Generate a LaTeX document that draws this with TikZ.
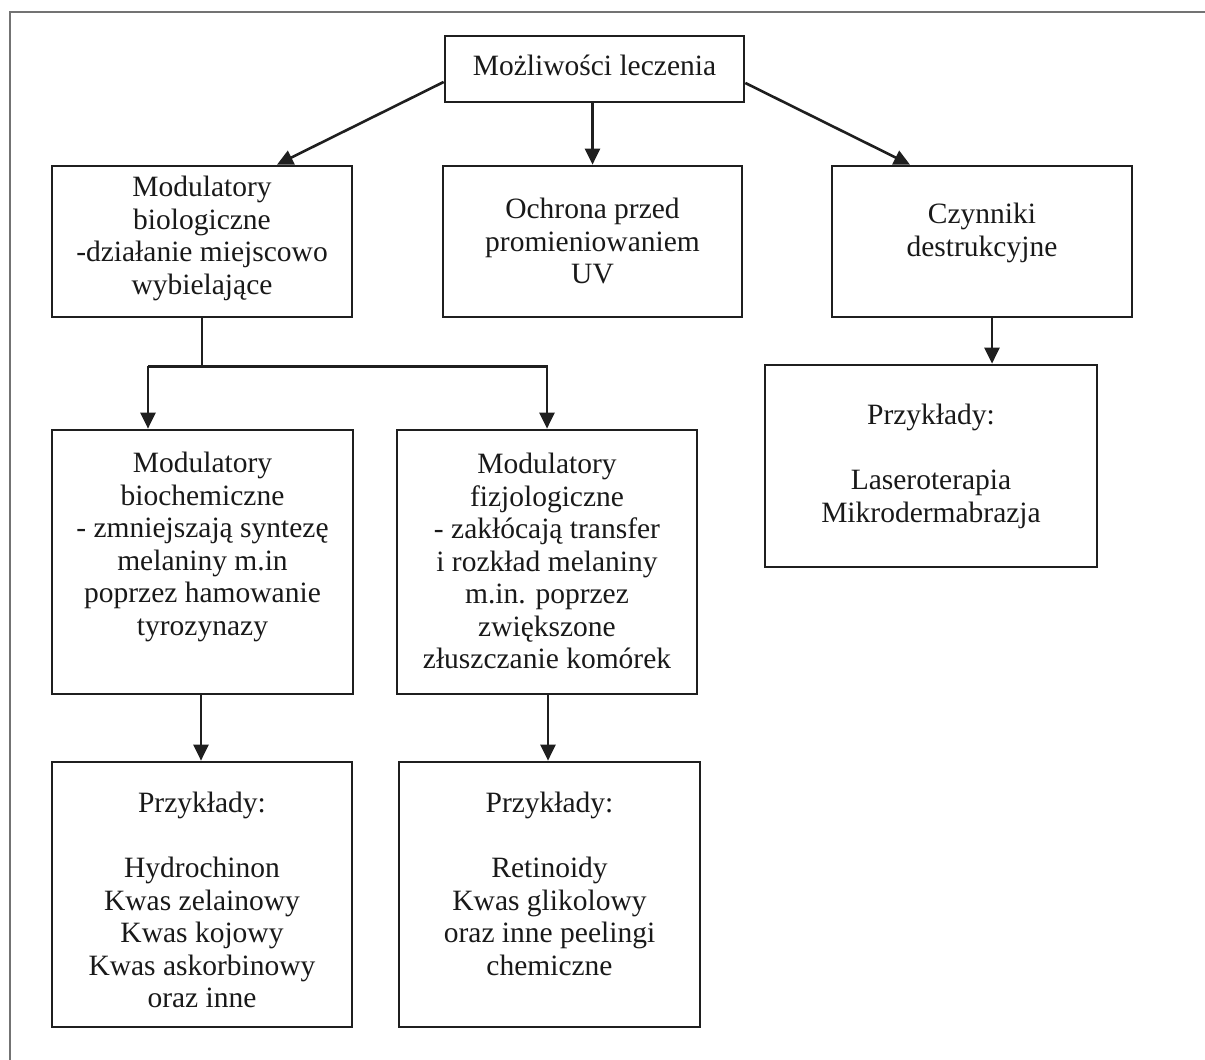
\documentclass[tikz,border=0pt]{standalone}
\usepackage{fontspec}
\setmainfont{Liberation Serif}
\usetikzlibrary{arrows.meta,calc}
\begin{document}
\begin{tikzpicture}[x=1pt,y=-1pt,
  box/.style={draw=black!88, line width=2.7pt, rectangle, inner sep=0pt},
  txt/.style={align=center, inner sep=0pt, font=\fontsize{29.5}{32.5}\selectfont, text=black!90, anchor=north},
  conn/.style={draw=black!88, line width=2.6pt},
  arr/.style={conn, -{Triangle[length=16pt,width=15pt]}},
  frame/.style={draw=black!55, line width=1.3pt}
]
\useasboundingbox (0,0) rectangle (1205,1060);
\draw[frame] (10,1060) -- (10,12) -- (1205,12);

% boxes
\node[box, minimum width=299pt, minimum height=66pt]  (top)  at (594.5,69) {};
\node[box, minimum width=300pt, minimum height=151pt] (modbio) at (202,241.5) {};
\node[box, minimum width=299pt, minimum height=151pt] (och)  at (592.5,241.5) {};
\node[box, minimum width=300pt, minimum height=151pt] (czyn) at (982,241.5) {};
\node[box, minimum width=301pt, minimum height=264pt] (bioch) at (202.5,562) {};
\node[box, minimum width=300pt, minimum height=264pt] (fizjo) at (547,562) {};
\node[box, minimum width=300pt, minimum height=265pt] (przL) at (202,894.5) {};
\node[box, minimum width=301pt, minimum height=265pt] (przM) at (549.5,894.5) {};
\node[box, minimum width=332pt, minimum height=202pt] (przR) at (931,466) {};

% texts
\node[txt, anchor=base] (topt) at (594.5,75) {Możliwości leczenia};
\node[txt] (modbiot) at (202,176) {Modulatory\\biologiczne\\-działanie miejscowo\\wybielające};
\node[txt] (ocht) at (592.5,198) {Ochrona przed\\promieniowaniem\\UV};
\node[txt] (czynt) at (982,203) {Czynniki\\destrukcyjne};
\node[txt] (biocht) at (202.5,452) {Modulatory\\biochemiczne\\- zmniejszają syntezę\\melaniny m.in\\poprzez hamowanie\\tyrozynazy};
\node[txt] (fizjot) at (547,453) {Modulatory\\fizjologiczne\\- zakłócają transfer\\i rozkład melaniny\\m.in. poprzez\\zwiększone\\złuszczanie komórek};
\node[txt] (przLt) at (202,792) {Przykłady:\\[32.5pt]Hydrochinon\\Kwas zelainowy\\Kwas kojowy\\Kwas askorbinowy\\oraz inne};
\node[txt] (przMt) at (549.5,792) {Przykłady:\\[32.5pt]Retinoidy\\Kwas glikolowy\\oraz inne peelingi\\chemiczne};
\node[txt] (przRt) at (931,404) {Przykłady:\\[32.5pt]Laseroterapia\\Mikrodermabrazja};

% connectors
\draw[arr] ([yshift=-13pt]top.west) -- ([xshift=75pt]modbio.north);
\draw[arr] ([yshift=-14pt]top.east) -- ([xshift=-72pt]czyn.north);
\draw[arr] (top.south -| och.north) -- (och.north);
\coordinate (split) at ([yshift=-48pt]modbio.south);
\coordinate (splitL) at ($(split)+(-54pt,0)$);
\coordinate (splitR) at (split -| fizjo.north);
\draw[conn] (modbio.south) -- (split);
\draw[arr] (splitL) |- (split) -- (splitR) -- (splitR |- fizjo.north);
\draw[arr] (splitL) -- (splitL |- bioch.north);
\draw[arr] ([xshift=-1.5pt]bioch.south) -- ([xshift=-1.5pt]bioch.south |- przL.north);
\draw[arr] ([xshift=1pt]fizjo.south) -- ([xshift=1pt]fizjo.south |- przM.north);
\draw[arr] ([xshift=10pt]czyn.south) -- ([xshift=10pt]czyn.south |- przR.north);
\end{tikzpicture}
\end{document}
